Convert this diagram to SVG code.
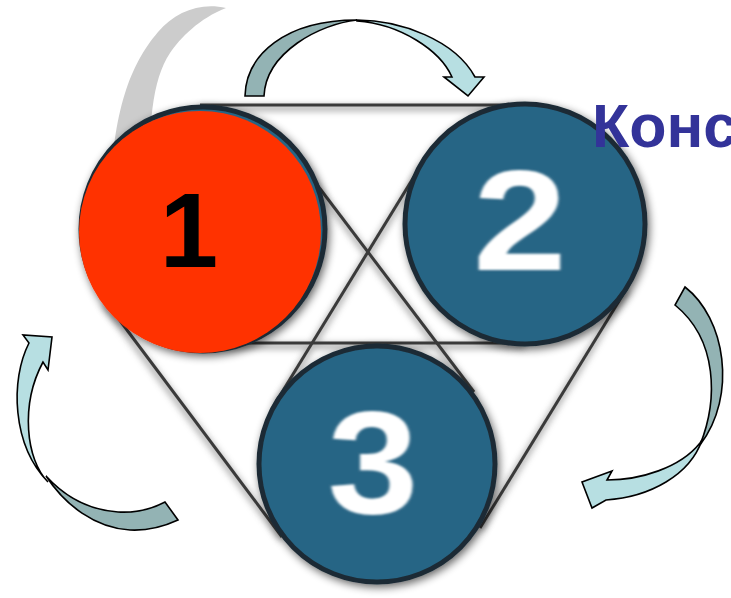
<svg xmlns="http://www.w3.org/2000/svg" width="731" height="598" viewBox="0 0 731 598">
<style>
.ln{stroke:#3a3a3a;stroke-width:3;fill:none}
.lnsh{stroke:#9a9a9a;stroke-width:7;fill:none}
.teal{fill:#286585;stroke:#1c2c36;stroke-width:5}
.dk{fill:#93b3b4;stroke:#000;stroke-width:1.6;stroke-linejoin:miter}
.lt{fill:#b7dfe2;stroke:#000;stroke-width:1.6;stroke-linejoin:miter}
.dig{font-family:"Liberation Sans",Arial,sans-serif;font-weight:bold;text-anchor:middle}
</style>
<defs>
<filter id="sh" x="-20%" y="-20%" width="140%" height="140%">
<feGaussianBlur in="SourceAlpha" stdDeviation="4"/>
<feOffset dx="2" dy="3"/>
<feComponentTransfer><feFuncA type="linear" slope="0.6"/></feComponentTransfer>
<feMerge><feMergeNode/><feMergeNode in="SourceGraphic"/></feMerge>
</filter>
<filter id="blur2" x="-10%" y="-10%" width="120%" height="120%"><feGaussianBlur stdDeviation="3"/></filter>
<filter id="soft" x="-10%" y="-10%" width="120%" height="120%"><feGaussianBlur stdDeviation="1.3"/></filter>
</defs>

<!-- grey swoosh behind node 1 -->
<path id="swoosh" d="M226,8 C200,2 175,12 158,32 C130,65 113,110 110,200 L150,200 C148,125 152,80 170,53 C180,38 200,18 226,8 Z" fill="#cccccc"/>

<!-- frame lines -->
<g id="frame">
<g filter="url(#blur2)" opacity="0.7">
<line class="lnsh" x1="200" y1="108" x2="525" y2="108"/>
<line class="lnsh" x1="104" y1="304" x2="282" y2="539"/>
<line class="lnsh" x1="627" y1="290" x2="480" y2="530"/>
<line class="lnsh" x1="200" y1="346" x2="525" y2="346"/>
<line class="lnsh" x1="296" y1="160" x2="474" y2="395"/>
<line class="lnsh" x1="423" y1="165" x2="276" y2="405"/>
</g>
<line class="ln" x1="200" y1="105" x2="525" y2="105"/>
<line class="ln" x1="106" y1="302" x2="282" y2="537"/>
<line class="ln" x1="627" y1="288" x2="480" y2="528"/>
<line class="ln" x1="200" y1="343" x2="525" y2="343"/>
<line class="ln" x1="296" y1="157" x2="474" y2="392"/>
<line class="ln" x1="423" y1="162" x2="276" y2="402"/>
</g>

<g id="node1" filter="url(#sh)">
<circle class="teal" cx="203" cy="229" r="122"/>
<circle cx="200" cy="232" r="121" fill="#ff3300"/>
<text class="dig" x="189" y="267" font-size="105" fill="#000">1</text>
</g>

<g id="node2" filter="url(#sh)">
<circle class="teal" cx="525" cy="224" r="120"/>
<text class="dig" transform="translate(520,270) scale(1.18,1)" x="0" y="0" font-size="143" fill="#fff" filter="url(#soft)">2</text>
</g>

<g id="node3" filter="url(#sh)">
<circle class="teal" cx="377" cy="464" r="118"/>
<text class="dig" transform="translate(373,513) scale(1.12,1)" x="0" y="0" font-size="146" fill="#fff" filter="url(#soft)">3</text>
</g>

<g id="connectors">
<!-- top arrow 1 -> 2 -->
<path class="dk" d="M245,96 C246,55 285,20 357,20 C320,24 266,52 264,96 Z"/>
<path class="lt" d="M357,20 C400,20 455,40 475,77 L484,77 L468,96 L444,77 L452,77 C440,50 400,24 357,21 Z"/>
<!-- right arrow 2 -> 3 -->
<path class="dk" d="M685,287 C725,318 738,395 700,445 C718,400 718,340 675,305 Z"/>
<path class="lt" d="M702,440 C690,475 650,497 606,500 L592,508 L582,482 L612,471 L607,480 C640,480 680,468 700,443 Z"/>
<!-- left arrow 3 -> 1 -->
<path class="dk" d="M46,476 C65,505 95,528 130,530 C150,531 165,526 178,520 L165,502 C150,510 135,513 118,512 C90,510 65,497 46,476 Z"/>
<path class="lt" d="M29,343 C10,380 12,445 48,482 C26,460 20,405 43,362 L48,370 L52,337 L23,335 Z"/>
</g>

<text id="title" x="592" y="147" font-family="'Liberation Sans',Arial,sans-serif" font-weight="bold" font-size="61" fill="#333399">Конс</text>
</svg>
